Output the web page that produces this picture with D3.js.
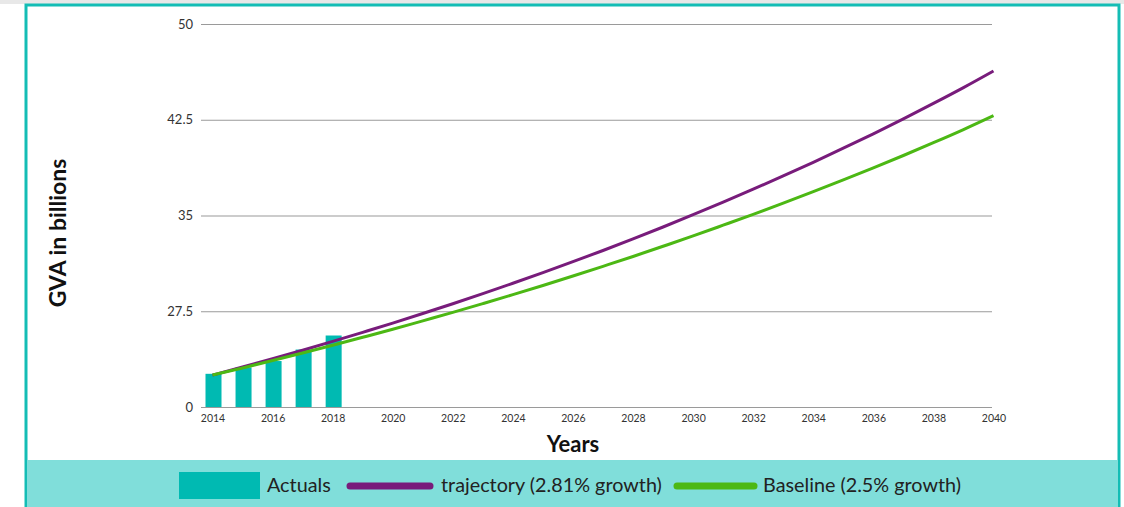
<!DOCTYPE html>
<html>
<head>
<meta charset="utf-8">
<script src="https://cdn.jsdelivr.net/npm/d3@7"></script>
<style>
  body { margin: 0; background: #ffffff; font-family: Lato, "Open Sans", sans-serif; }
  svg { display: block; }
</style>
</head>
<body>
<div id="gva-chart"></div>
<script>
// Years shown on the axis and the data
var actualYears = [2014, 2015, 2016, 2017, 2018];
var actualValues = [22.6, 23.1, 23.6, 24.5, 25.6];

var lineYears = [2014, 2015, 2016, 2017, 2018, 2019, 2020, 2021, 2022, 2023, 2024, 2025, 2026, 2027,
                 2028, 2029, 2030, 2031, 2032, 2033, 2034, 2035, 2036, 2037, 2038, 2039, 2040];
var trajectoryValues = [22.5, 23.13, 23.78, 24.45, 25.14, 25.85, 26.57, 27.32, 28.09, 28.88, 29.69, 30.52, 31.38, 32.26,
                        33.17, 34.1, 35.06, 36.05, 37.06, 38.1, 39.17, 40.27, 41.4, 42.57, 43.78, 45.02, 46.32];
var baselineValues = [22.5, 23.06, 23.64, 24.23, 24.84, 25.46, 26.09, 26.75, 27.41, 28.1, 28.8, 29.52, 30.26, 31.02,
                      31.79, 32.59, 33.4, 34.24, 35.09, 35.97, 36.87, 37.79, 38.73, 39.7, 40.7, 41.73, 42.82];

var xTickYears = [2014, 2016, 2018, 2020, 2022, 2024, 2026, 2028, 2030, 2032, 2034, 2036, 2038, 2040];
var yTickValues = [20, 27.5, 35, 42.5, 50];
var yTickLabels = ["0", "27.5", "35", "42.5", "50"];

var legendNames = ["Actuals", "trajectory (2.81% growth)", "Baseline (2.5% growth)"];

// colours
var barColor = "#00bab2";
var trajectoryColor = "#781c7b";
var baselineColor = "#4cb814";

var width = 1124;
var height = 507;

var svg = d3.select("#gva-chart")
    .append("svg")
    .attr("width", width)
    .attr("height", height);

// grey strip at the very top and the framed panel
svg.append("rect").attr("x", 0).attr("y", 0).attr("width", width).attr("height", 4).attr("fill", "#e8e8e8");
svg.append("rect")
    .attr("x", 26).attr("y", 5)
    .attr("width", 1093).attr("height", 510)
    .attr("fill", "#ffffff")
    .attr("stroke", "#14bdb5")
    .attr("stroke-width", 3);

// scales
var x = d3.scaleLinear().domain([2014, 2040]).range([212.5, 993.5]);
var y = d3.scaleLinear().domain([20, 50]).range([407, 24]);

// gridlines + y labels
var yAxis = d3.axisLeft(y)
    .tickValues(yTickValues)
    .tickSize(-791)
    .tickPadding(8)
    .tickFormat(function (d, i) { return yTickLabels[i]; });

var gy = svg.append("g")
    .attr("transform", "translate(201,0)")
    .call(yAxis);
gy.select(".domain").remove();
gy.selectAll(".tick line").attr("stroke", "#9a9a9a").attr("stroke-width", 1.2);
gy.selectAll(".tick text")
    .attr("fill", "#333")
    .style("font-size", "13px")
    .style("font-family", "Lato, sans-serif");

// x labels
var xAxis = d3.axisBottom(x)
    .tickValues(xTickYears)
    .tickSize(0)
    .tickPadding(8)
    .tickFormat(d3.format("d"));

var gx = svg.append("g")
    .attr("transform", "translate(0,407)")
    .call(xAxis);
gx.select(".domain").remove();
gx.selectAll(".tick text")
    .attr("fill", "#333")
    .style("font-size", "10.5px")
    .style("font-family", "Lato, sans-serif");

// bars for the actuals
var barWidth = 16;
svg.selectAll(".bar")
    .data(actualYears.map(function (yr, i) { return { year: yr, value: actualValues[i] }; }))
    .enter()
    .append("rect")
    .attr("class", "bar")
    .attr("x", function (d) { return x(d.year) - barWidth / 2 + 1; })
    .attr("y", function (d) { return y(d.value); })
    .attr("width", barWidth)
    .attr("height", function (d) { return y(20) - y(d.value); })
    .attr("fill", barColor);

// growth lines
var line = d3.line()
    .x(function (d) { return x(d.year); })
    .y(function (d) { return y(d.value); })
    .curve(d3.curveMonotoneX);

function addLine(values, colour) {
    var pts = lineYears.map(function (yr, i) { return { year: yr, value: values[i] }; });
    svg.append("path")
        .datum(pts)
        .attr("d", line)
        .attr("fill", "none")
        .attr("stroke", colour)
        .attr("stroke-width", 3);
}
addLine(trajectoryValues, trajectoryColor);
addLine(baselineValues, baselineColor);

// axis titles
svg.append("text")
    .attr("transform", "translate(66,233) rotate(-90)")
    .attr("text-anchor", "middle")
    .style("font-size", "23px")
    .style("font-weight", "bold")
    .attr("fill", "#111")
    .text("GVA in billions");

svg.append("text")
    .attr("x", 573)
    .attr("y", 452)
    .attr("text-anchor", "middle")
    .style("font-size", "22px")
    .style("font-weight", "bold")
    .attr("fill", "#111")
    .text("Years");

// legend band
svg.append("rect")
    .attr("x", 27).attr("y", 460)
    .attr("width", 1091).attr("height", 47)
    .attr("fill", "#80deda");

var legend = svg.append("g");
legend.append("rect")
    .attr("x", 179).attr("y", 472)
    .attr("width", 81).attr("height", 27)
    .attr("fill", barColor);
legend.append("text")
    .attr("x", 267).attr("y", 492)
    .style("font-size", "19.8px")
    .attr("fill", "#222")
    .text(legendNames[0]);

legend.append("line")
    .attr("x1", 350).attr("x2", 430)
    .attr("y1", 486).attr("y2", 486)
    .attr("stroke", trajectoryColor)
    .attr("stroke-width", 7)
    .attr("stroke-linecap", "round");
legend.append("text")
    .attr("x", 441).attr("y", 492)
    .style("font-size", "19.8px")
    .attr("fill", "#222")
    .text(legendNames[1]);

legend.append("line")
    .attr("x1", 677).attr("x2", 754)
    .attr("y1", 486).attr("y2", 486)
    .attr("stroke", baselineColor)
    .attr("stroke-width", 7)
    .attr("stroke-linecap", "round");
legend.append("text")
    .attr("x", 763).attr("y", 492)
    .style("font-size", "19.8px")
    .attr("fill", "#222")
    .text(legendNames[2]);
</script>
</body>
</html>
